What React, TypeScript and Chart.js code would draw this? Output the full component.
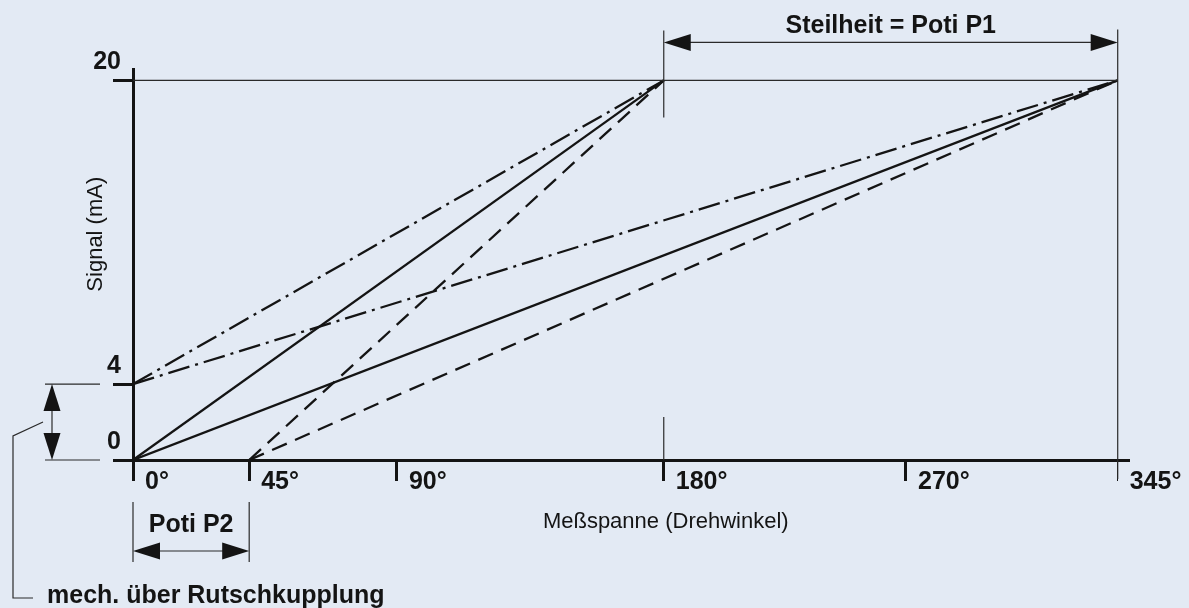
import React, { useEffect, useRef } from 'react';
import { Chart, registerables, LinearScale } from 'chart.js';

// ---------- data ----------
const xTickAngles = [0, 45, 90, 180, 270, 345];
// relative placement of each angle tick along the (schematic, non-uniform) angle axis
const xTickPlacement = [0, 0.118, 0.268, 0.539, 0.785, 1];
const yTickValues = [0, 4, 20];

// characteristic lines: [start angle, start signal, end angle, end signal]
const solidLines = [
  [0, 0, 180, 20],
  [0, 0, 345, 20],
];
const dashedLines = [
  [45, 0, 180, 20],
  [45, 0, 345, 20],
];
const dashDotLines = [
  [0, 4, 180, 20],
  [0, 4, 345, 20],
];
const fullScaleLine = [0, 20, 345, 20];

const xAxisTitle = 'Meßspanne (Drehwinkel)';
const yAxisTitle = 'Signal (mA)';
const slopeLabel = 'Steilheit = Poti P1';
const zeroLabel = 'Poti P2';
const clutchLabel = 'mech. über Rutschkupplung';

// ---------- style ----------
const FONT = '"Liberation Sans", Arial, Helvetica, sans-serif';
const INK = '#141414';
const THIN = '#2a2a2a';
const BG = '#e3eaf4';

// piecewise angle scale (the drawing's angle axis is not to scale)
class SchematicAngleScale extends LinearScale {
  static id = 'schematicAngle';
  static defaults = {};
  rel(v: number) {
    const a = xTickAngles;
    const p = xTickPlacement;
    let i = 1;
    while (i < a.length - 1 && v > a[i]) i++;
    const t = (v - a[i - 1]) / (a[i] - a[i - 1]);
    return p[i - 1] + t * (p[i] - p[i - 1]);
  }
  buildTicks() {
    (this as any).start = this.min;
    (this as any).end = this.max;
    return xTickAngles.map((v) => ({ value: v }));
  }
  getPixelForValue(v: number) {
    const lo = this.rel(this.min);
    const hi = this.rel(this.max);
    return this.getPixelForDecimal((this.rel(v) - lo) / (hi - lo));
  }
  getValueForPixel(px: number) {
    const d = this.getDecimalForPixel(px);
    return this.min + d * (this.max - this.min);
  }
}

Chart.register(...registerables, SchematicAngleScale as any);

const toPoints = (l: number[]) => [
  { x: l[0], y: l[1] },
  { x: l[2], y: l[3] },
];

function seg(ctx: CanvasRenderingContext2D, x1: number, y1: number, x2: number, y2: number) {
  ctx.beginPath();
  ctx.moveTo(x1, y1);
  ctx.lineTo(x2, y2);
  ctx.stroke();
}

function head(ctx: CanvasRenderingContext2D, tx: number, ty: number, dx: number, dy: number, len = 27, half = 8.5) {
  const bx = tx - dx * len;
  const by = ty - dy * len;
  ctx.beginPath();
  ctx.moveTo(tx, ty);
  ctx.lineTo(bx - dy * half, by + dx * half);
  ctx.lineTo(bx + dy * half, by - dx * half);
  ctx.closePath();
  ctx.fill();
}

const backgroundPlugin = {
  id: 'bg',
  beforeDraw(chart: any) {
    const { ctx, width, height } = chart;
    ctx.save();
    ctx.fillStyle = BG;
    ctx.fillRect(0, 0, width, height);
    ctx.restore();
  },
};

const annotationPlugin = {
  id: 'dimensioning',
  afterDraw(chart: any) {
    const { ctx } = chart;
    const xs = chart.scales.x;
    const ys = chart.scales.y;
    const x0 = xs.getPixelForValue(0);
    const x45 = xs.getPixelForValue(45);
    const x180 = xs.getPixelForValue(180);
    const x345 = xs.getPixelForValue(345);
    const y0 = ys.getPixelForValue(0);
    const y4 = ys.getPixelForValue(4);
    const y20 = ys.getPixelForValue(20);

    ctx.save();
    ctx.strokeStyle = THIN;
    ctx.fillStyle = INK;
    ctx.lineWidth = 1.2;

    // guide lines
    seg(ctx, x180, y20 - 50, x180, y20 + 37);
    seg(ctx, x180, y0 - 43, x180, y0);
    seg(ctx, x345, y20 - 51, x345, y0 + 19);

    // Steilheit arrow
    const ay = y20 - 38;
    seg(ctx, x180 + 10, ay, x345 - 10, ay);
    head(ctx, x180, ay, -1, 0);
    head(ctx, x345, ay, 1, 0);

    // Poti P2 dimension
    seg(ctx, x0, y0 + 42, x0, y0 + 102);
    seg(ctx, x45, y0 + 42, x45, y0 + 102);
    const py = y0 + 91;
    seg(ctx, x0 + 10, py, x45 - 10, py);
    head(ctx, x0, py, -1, 0);
    head(ctx, x45, py, 1, 0);

    // left dimension 0..4 mA
    const lx = x0 - 81;
    seg(ctx, x0 - 88, y4, x0 - 33, y4);
    seg(ctx, x0 - 88, y0, x0 - 33, y0);
    seg(ctx, lx, y4 + 10, lx, y0 - 10);
    head(ctx, lx, y4, 0, -1);
    head(ctx, lx, y0, 0, 1);

    // bracket to clutch note
    ctx.beginPath();
    ctx.moveTo(x0 - 90, y0 - 38);
    ctx.lineTo(x0 - 120, y0 - 24);
    ctx.lineTo(x0 - 120, y0 + 138);
    ctx.lineTo(x0 - 100, y0 + 138);
    ctx.stroke();

    // texts
    ctx.fillStyle = INK;
    ctx.textBaseline = 'alphabetic';
    ctx.font = `bold 25px ${FONT}`;
    ctx.textAlign = 'center';
    ctx.fillText(slopeLabel, (x180 + x345) / 2, y20 - 47);
    ctx.fillText(zeroLabel, (x0 + x45) / 2, y0 + 72);
    ctx.textAlign = 'left';
    ctx.fillText(clutchLabel, x0 - 86, y0 + 143);

    ctx.font = `22px ${FONT}`;
    ctx.textAlign = 'center';
    ctx.fillText(xAxisTitle, x180 + 2, y0 + 68);

    ctx.translate(x0 - 37, (y0 + y20) / 2 - 36);
    ctx.rotate(-Math.PI / 2);
    ctx.textBaseline = 'middle';
    ctx.fillText(yAxisTitle, 0, 0);
    ctx.restore();
  },
};

export default function App() {
  const ref = useRef<HTMLCanvasElement | null>(null);

  useEffect(() => {
    if (!ref.current) return;
    const lineDs = (l: number[], dash: number[]) => ({
      data: toPoints(l),
      borderColor: INK,
      borderWidth: 2.3,
      borderDash: dash,
      pointRadius: 0,
      fill: false,
      tension: 0,
    });
    const datasets: any[] = [
      {
        data: toPoints(fullScaleLine),
        borderColor: THIN,
        borderWidth: 1.2,
        pointRadius: 0,
        fill: false,
      },
      ...solidLines.map((l) => lineDs(l, [])),
      ...dashedLines.map((l) => lineDs(l, [16, 9])),
      ...dashDotLines.map((l) => lineDs(l, [22, 6, 3, 6])),
    ];

    const chart = new Chart(ref.current, {
      type: 'line',
      data: { datasets },
      options: {
        animation: false,
        responsive: false,
        devicePixelRatio: 1,
        layout: { padding: { left: 0, right: 60, top: 69, bottom: 0 } },
        plugins: { legend: { display: false }, tooltip: { enabled: false } },
        scales: {
          x: {
            type: 'schematicAngle' as any,
            min: 0,
            max: 349,
            position: 'bottom',
            afterFit: (s: any) => {
              s.height = 148;
            },
            grid: {
              drawOnChartArea: false,
              drawTicks: true,
              tickLength: 21,
              tickColor: INK,
              tickWidth: (c: any) => (c.tick && c.tick.value === 345 ? 1 : 3),
            },
            border: { display: true, width: 3, color: INK },
            ticks: {
              align: 'start',
              labelOffset: 12,
              padding: -14,
              color: INK,
              autoSkip: false,
              maxRotation: 0,
              font: { family: FONT, size: 25, weight: 'bold' },
              callback: (v: any) => `${v}°`,
            },
          } as any,
          y: {
            type: 'linear',
            min: 0,
            max: 20.6,
            afterBuildTicks: (s: any) => {
              s.ticks = yTickValues.map((v) => ({ value: v }));
            },
            afterFit: (s: any) => {
              s.width = 133;
            },
            grid: {
              drawOnChartArea: false,
              drawTicks: true,
              tickLength: 20,
              tickColor: INK,
              tickWidth: 3,
            },
            border: { display: true, width: 3, color: INK },
            ticks: {
              padding: -8,
              labelOffset: -18,
              color: INK,
              font: { family: FONT, size: 25, weight: 'bold' },
              callback: (v: any) => String(v),
            },
          } as any,
        },
      },
      plugins: [backgroundPlugin, annotationPlugin],
    });
    return () => chart.destroy();
  }, []);

  return (
    <div style={{ position: 'fixed', left: 0, top: 0, width: 1189, height: 608, background: BG }}>
      <canvas ref={ref} width={1189} height={608} style={{ display: 'block' }} />
    </div>
  );
}
